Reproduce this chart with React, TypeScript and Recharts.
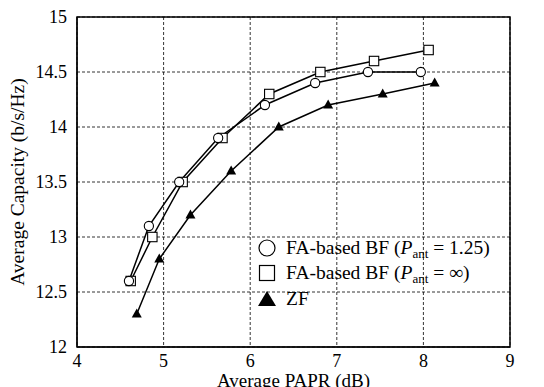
import { LineChart, Line, XAxis, YAxis, CartesianGrid, ReferenceArea } from 'recharts'

const FONT = "'Liberation Serif', 'Times New Roman', serif"

// FA-based BF (P_ant = 1.25)
const faPapr = [4.6, 4.83, 5.18, 5.63, 6.17, 6.75, 7.36, 7.97]
const faCap = [12.6, 13.1, 13.5, 13.9, 14.2, 14.4, 14.5, 14.5]
// FA-based BF (P_ant = inf)
const infPapr = [4.62, 4.87, 5.22, 5.68, 6.22, 6.81, 7.43, 8.06]
const infCap = [12.6, 13.0, 13.5, 13.9, 14.3, 14.5, 14.6, 14.7]
// ZF
const zfPapr = [4.69, 4.95, 5.31, 5.78, 6.33, 6.9, 7.53, 8.13]
const zfCap = [12.3, 12.8, 13.2, 13.6, 14.0, 14.2, 14.3, 14.4]

const xTicks = [4, 5, 6, 7, 8, 9]
const yTicks = [12, 12.5, 13, 13.5, 14, 14.5, 15]

const toPts = (xs: number[], ys: number[]) => xs.map((x, i) => ({ x, y: ys[i] }))

const Circle = ({ cx, cy }: any) => <circle cx={cx} cy={cy} r={4.6} fill="#fff" stroke="#000" strokeWidth={1.1} />
const Square = ({ cx, cy }: any) => <rect x={cx - 4.7} y={cy - 4.7} width={9.4} height={9.4} fill="#fff" stroke="#000" strokeWidth={1.1} />
const Tri = ({ cx, cy }: any) => <path d={`M${cx},${cy - 5.5} L${cx + 5},${cy + 3.5} L${cx - 5},${cy + 3.5} Z`} fill="#000" />

const Sub = () => <sub style={{ fontSize: 13, fontStyle: 'normal', verticalAlign: -4, lineHeight: 0 }}>ant</sub>

const rowStyle = { display: 'flex', alignItems: 'center', height: 25.5 }

export default function App() {
  const tick = { fill: '#000', fontSize: 18, fontFamily: FONT }
  return (
    <div style={{ position: 'fixed', left: 0, top: 0, width: 544, height: 387, background: '#fff', fontFamily: FONT, overflow: 'hidden' }}>
      <LineChart width={544} height={387} margin={{ top: 17, right: 34, left: 0, bottom: 0 }}>
        <CartesianGrid stroke="#000" strokeDasharray="3 2" strokeWidth={0.8} />
        <XAxis
          dataKey="x"
          type="number"
          domain={[4, 9]}
          ticks={xTicks}
          height={40}
          stroke="#000"
          tickLine={false}
          tick={tick}
          tickMargin={1}
          label={{ value: 'Average PAPR (dB)', position: 'insideBottom', offset: 0, fill: '#000', fontSize: 19, fontFamily: FONT }}
        />
        <YAxis
          type="number"
          domain={[12, 15]}
          ticks={yTicks}
          width={77}
          stroke="#000"
          tickLine={false}
          tick={tick}
          tickMargin={4}
          label={{ value: 'Average Capacity (b/s/Hz)', angle: -90, position: 'insideLeft', offset: 17, fill: '#000', fontSize: 19.5, fontFamily: FONT, style: { textAnchor: 'middle' } }}
        />
        <ReferenceArea x1={4} x2={9} y1={12} y2={15} fill="none" stroke="#000" strokeWidth={1.5} ifOverflow="visible" />
        <Line data={toPts(zfPapr, zfCap)} dataKey="y" stroke="#000" strokeWidth={1.5} dot={<Tri />} isAnimationActive={false} />
        <Line data={toPts(infPapr, infCap)} dataKey="y" stroke="#000" strokeWidth={1.5} dot={<Square />} isAnimationActive={false} />
        <Line data={toPts(faPapr, faCap)} dataKey="y" stroke="#000" strokeWidth={1.5} dot={<Circle />} isAnimationActive={false} />
      </LineChart>
      <div style={{ position: 'absolute', left: 258, top: 235, fontSize: 19.5, color: '#000' }}>
        <div style={rowStyle}>
          <svg width={28} height={20} style={{ flex: 'none' }}><circle cx={9} cy={10} r={8} fill="#fff" stroke="#000" strokeWidth={1.2} /></svg>
          <span>FA-based BF (<i>P</i><Sub /> = 1.25)</span>
        </div>
        <div style={rowStyle}>
          <svg width={28} height={20} style={{ flex: 'none' }}><rect x={1.5} y={2.5} width={15} height={15} fill="#fff" stroke="#000" strokeWidth={1.2} /></svg>
          <span>FA-based BF (<i>P</i><Sub /> = ∞)</span>
        </div>
        <div style={rowStyle}>
          <svg width={28} height={20} style={{ flex: 'none' }}><path d="M9,2 L18,17 L0,17 Z" fill="#000" /></svg>
          <span>ZF</span>
        </div>
      </div>
    </div>
  )
}
